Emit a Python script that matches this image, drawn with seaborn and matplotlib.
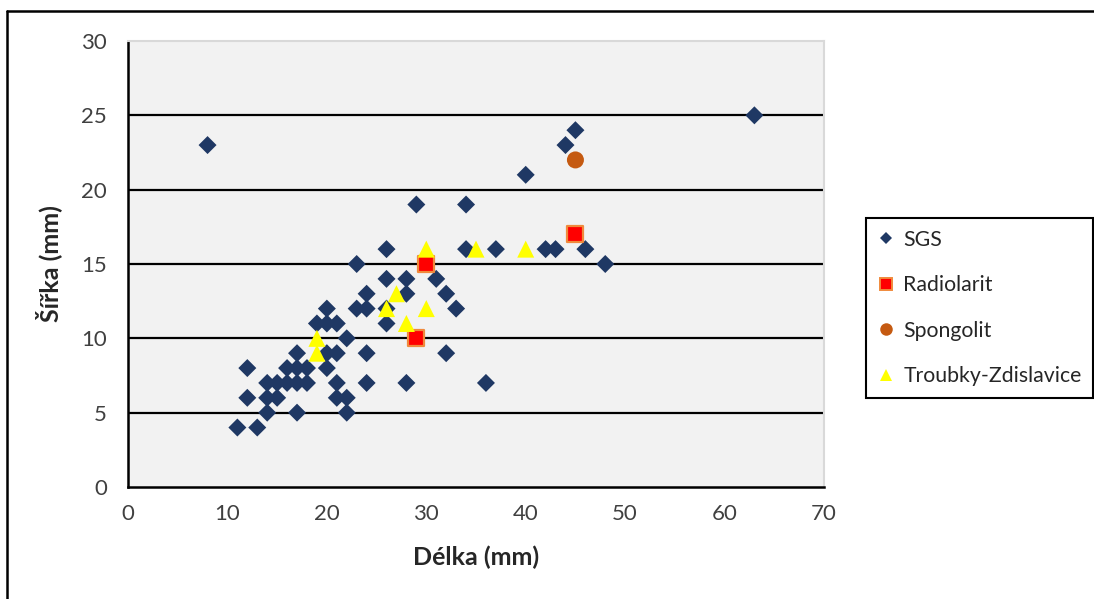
import matplotlib
matplotlib.use("Agg")
import matplotlib.pyplot as plt
from matplotlib.lines import Line2D
import seaborn as sns
import pandas as pd

# Length / width measurements (mm) per raw-material group
sgs_delka = [8, 11, 12, 12, 13, 14, 14, 14, 15, 15, 16, 16, 17, 17, 17, 17, 18, 18,
             19, 20, 20, 20, 20, 21, 21, 21, 21, 22, 22, 22, 23, 23, 24, 24, 24, 24,
             26, 26, 26, 26, 28, 28, 28, 29, 31, 32, 32, 33, 34, 34, 36, 37, 40, 42,
             43, 44, 45, 46, 48, 63]
sgs_sirka = [23, 4, 6, 8, 4, 5, 6, 7, 6, 7, 7, 8, 5, 7, 8, 9, 7, 8,
             11, 8, 9, 11, 12, 6, 7, 9, 11, 5, 6, 10, 12, 15, 7, 9, 12, 13,
             11, 12, 14, 16, 7, 13, 14, 19, 14, 9, 13, 12, 16, 19, 7, 16, 21, 16,
             16, 23, 24, 16, 15, 25]

radiolarit_delka = [29, 30, 45]
radiolarit_sirka = [10, 15, 17]

spongolit_delka = [45]
spongolit_sirka = [22]

troubky_delka = [19, 19, 26, 27, 28, 30, 30, 35, 40]
troubky_sirka = [9, 10, 12, 13, 11, 12, 16, 16, 16]

series_names = ["SGS", "Radiolarit", "Spongolit", "Troubky-Zdislavice"]
x_ticks = [0, 10, 20, 30, 40, 50, 60, 70]
y_ticks = [0, 5, 10, 15, 20, 25, 30]

sns.set_style("white")
plt.rcParams["font.family"] = ["Lato", "DejaVu Sans"]

fig = plt.figure(figsize=(10.94, 5.99), dpi=100)
W, H = 1094, 599
ax = fig.add_axes([128 / W, 1 - 487 / H, 696 / W, 446 / H])
ax.set_facecolor("#f2f2f2")

styles = {
    "SGS": dict(marker="D", s=84, color="#1f3864", edgecolor="none", linewidth=0),
    "Radiolarit": dict(marker="s", s=120, color="#ff0000", edgecolor="#f08a3c", linewidth=1.6),
    "Spongolit": dict(marker="o", s=150, color="#c55a11", edgecolor="none", linewidth=0),
    "Troubky-Zdislavice": dict(marker="^", s=150, color="#ffff00", edgecolor="none", linewidth=0),
}
data = {
    "SGS": (sgs_delka, sgs_sirka),
    "Radiolarit": (radiolarit_delka, radiolarit_sirka),
    "Spongolit": (spongolit_delka, spongolit_sirka),
    "Troubky-Zdislavice": (troubky_delka, troubky_sirka),
}

# gridlines at the y ticks (except the top border)
for yv in y_ticks[1:-1]:
    ax.axhline(yv, color="black", lw=1.6, zorder=1)

for name in series_names:
    dx, dy = data[name]
    df = pd.DataFrame({"Délka": dx, "Šířka": dy})
    st = styles[name]
    sns.scatterplot(data=df, x="Délka", y="Šířka", ax=ax, marker=st["marker"], s=st["s"],
                    color=st["color"], edgecolor=st["edgecolor"], linewidth=st["linewidth"],
                    zorder=3, legend=False)

ax.set_xlim(0, 70)
ax.set_ylim(0, 30)
ax.set_xticks(x_ticks)
ax.set_yticks(y_ticks)
ax.tick_params(axis="both", length=0, labelsize=16, labelcolor="#404040")
ax.tick_params(axis="x", pad=12)
ax.tick_params(axis="y", pad=15)

for side in ["left", "bottom"]:
    ax.spines[side].set_color("black")
    ax.spines[side].set_linewidth(1.8)
for side in ["top", "right"]:
    ax.spines[side].set_color("#d9d9d9")
    ax.spines[side].set_linewidth(1.5)

ax.set_xlabel("Délka (mm)", fontsize=18, fontweight="bold", color="#262626", labelpad=16)
ax.set_ylabel("Šířka (mm)", fontsize=18, fontweight="bold", color="#262626", labelpad=14)

handles = [
    Line2D([], [], ls="none", marker="D", markersize=6, color="#1f3864", markeredgewidth=0),
    Line2D([], [], ls="none", marker="s", markersize=9, markerfacecolor="#ff0000",
           markeredgecolor="#f08a3c", markeredgewidth=1.4),
    Line2D([], [], ls="none", marker="o", markersize=9, color="#c55a11", markeredgewidth=0),
    Line2D([], [], ls="none", marker="^", markersize=8, color="#ffff00", markeredgewidth=0),
]
leg = fig.legend(handles, series_names, loc="upper left",
                 bbox_to_anchor=(866 / W, 1 - 218 / H), fontsize=15.3,
                 frameon=True, fancybox=False, edgecolor="black", framealpha=1,
                 handlelength=0.8, handletextpad=0.4, labelspacing=1.2,
                 borderpad=0.55, borderaxespad=0)
leg.get_frame().set_linewidth(1.5)
for t in leg.get_texts():
    t.set_color("#262626")

# outer chart frame
fig.add_artist(Line2D([7 / W, 7 / W], [0, 1 - 11 / H], color="black", lw=1.8, transform=fig.transFigure))
fig.add_artist(Line2D([7 / W, 1], [1 - 11 / H, 1 - 11 / H], color="black", lw=1.8, transform=fig.transFigure))

fig.savefig("out.png", dpi=100)
